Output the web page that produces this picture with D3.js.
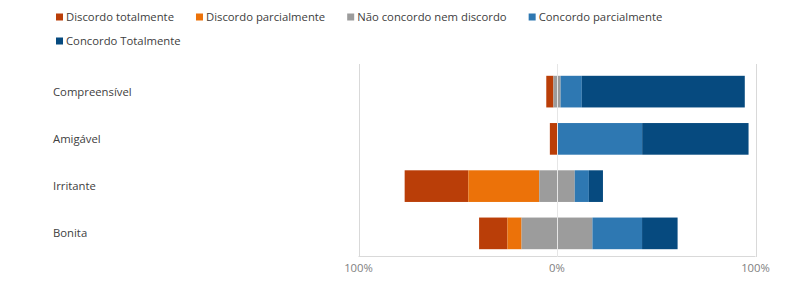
<!DOCTYPE html>
<html lang="pt">
<head>
  <meta charset="UTF-8">
  <title>Escala Likert divergente</title>
  <script src="https://d3js.org/d3.v7.min.js" charset="utf-8"></script>
  <style>
    body { margin: 0; background: #fff; }
    text { font-family: "Segoe UI", "Open Sans", sans-serif; }
  </style>
</head>
<body>
<div id="chart"></div>
<script>

// respostas (% dos participantes) por categoria
var categories = ["Compreensível", "Amigável", "Irritante", "Bonita"];
var seriesNames = ["Discordo totalmente", "Discordo parcialmente", "Não concordo nem discordo", "Concordo parcialmente", "Concordo Totalmente"];
var discordoTotal = [3.6, 3.6, 32.1, 14.3];
var discordoParcial = [0, 0, 35.7, 7.1];
var neutro = [3.6, 0, 17.9, 35.7];
var concordoParcial = [10.7, 42.9, 7.1, 25.0];
var concordoTotal = [82.1, 53.6, 7.1, 17.9];
var tickValues = [-100, 0, 100];
var tickLabels = ["100%", "0%", "100%"];

var colors = ["#BA3E08", "#EC7209", "#9C9C9C", "#2E78B2", "#064A7F"];
var fontSize = 11.3;

var width = 800, height = 298;

var svg = d3.select("#chart").append("svg")
  .attr("width", width)
  .attr("height", height);

var x = d3.scaleLinear()
  .domain([-100, 100])
  .range([358.5, 755.5]);

var y = d3.scaleBand()
  .domain(categories)
  .range([68, 257])
  .paddingInner(0.33)
  .paddingOuter(0.165);

// grid
svg.append("g")
  .selectAll("line")
  .data(tickValues)
  .join("line")
  .attr("x1", d => Math.round(x(d)) + 0.5)
  .attr("x2", d => Math.round(x(d)) + 0.5)
  .attr("y1", 64)
  .attr("y2", 257)
  .attr("stroke", "#d9d9d9");

svg.append("line")
  .attr("x1", x(-100))
  .attr("x2", x(100))
  .attr("y1", 256.5)
  .attr("y2", 256.5)
  .attr("stroke", "#d9d9d9");

// stacked diverging rows
var rows = categories.map(function(c, i) {
  var vals = [discordoTotal[i], discordoParcial[i], neutro[i], concordoParcial[i], concordoTotal[i]];
  var start = -(vals[0] + vals[1] + vals[2] / 2);
  return vals.map(function(v, k) {
    var seg = { cat: c, k: k, x0: start, x1: start + v };
    start += v;
    return seg;
  });
});

svg.append("g")
  .selectAll("g")
  .data(rows)
  .join("g")
  .selectAll("rect")
  .data(d => d.filter(s => s.x1 > s.x0))
  .join("rect")
  .attr("x", d => x(d.x0))
  .attr("width", d => x(d.x1) - x(d.x0))
  .attr("y", d => y(d.cat))
  .attr("height", y.bandwidth())
  .attr("fill", d => colors[d.k]);

// zero line over the bars
svg.append("line")
  .attr("x1", Math.round(x(0)) + 0.5)
  .attr("x2", Math.round(x(0)) + 0.5)
  .attr("y1", 64)
  .attr("y2", 257)
  .attr("stroke", "#e6e6e6");

// category labels
svg.append("g")
  .selectAll("text")
  .data(categories)
  .join("text")
  .attr("x", 53)
  .attr("y", d => y(d) + y.bandwidth() / 2)
  .attr("dy", "0.35em")
  .attr("font-size", fontSize)
  .attr("fill", "#404040")
  .text(d => d);

// axis labels
svg.append("g")
  .selectAll("text")
  .data(tickValues)
  .join("text")
  .attr("x", d => x(d))
  .attr("y", 268)
  .attr("dy", "0.35em")
  .attr("text-anchor", "middle")
  .attr("font-size", fontSize)
  .attr("fill", "#7f7f7f")
  .text((d, i) => tickLabels[i]);

// legend, flowing over two rows
var legend = svg.append("g");
var lx = 56, ly = 17;
seriesNames.forEach(function(name, i) {
  var item = legend.append("g");
  item.append("rect")
    .attr("x", 0).attr("y", -3.5)
    .attr("width", 7).attr("height", 7)
    .attr("fill", colors[i]);
  var t = item.append("text")
    .attr("x", 10)
    .attr("y", 0)
    .attr("dy", "0.35em")
    .attr("font-size", fontSize)
    .attr("fill", "#404040")
    .text(name);
  var w = 10 + t.node().getComputedTextLength();
  if (lx + w > 700) { lx = 56; ly += 24; }
  item.attr("transform", "translate(" + lx + "," + ly + ")");
  lx += w + 22;
});

</script>
</body>
</html>
